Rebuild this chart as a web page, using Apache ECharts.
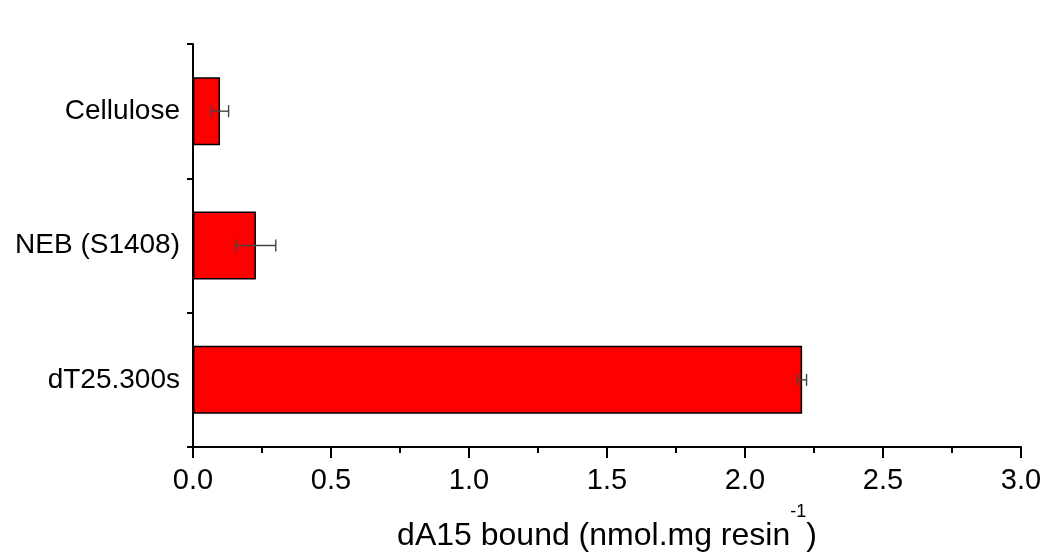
<!DOCTYPE html>
<html>
<head>
    <meta charset="utf-8">
    <title>dA15 bound</title>
    <script src="https://cdn.jsdelivr.net/npm/echarts@6/dist/echarts.min.js"></script>
</head>
<body style="margin:0;background:#fff;">
    <div id="main" style="width:1045px;height:555px;"></div>
    <script type="text/javascript">

// data (bottom to top)
var categories = ['dT25.300s', 'NEB (S1408)', 'Cellulose'];
var boundValues = [2.207, 0.228, 0.098];
var boundErrors = [0.016, 0.072, 0.031];
var xTicks = [0, 0.5, 1.0, 1.5, 2.0, 2.5, 3.0];

var errData = categories.map(function (c, i) {
    return [i, boundValues[i] - boundErrors[i], boundValues[i] + boundErrors[i]];
});

var myChart = echarts.init(document.getElementById('main'));

var option = {
    backgroundColor: '#ffffff',
    animation: false,
    grid: { left: 193, right: 24, top: 44, bottom: 108, outerBoundsMode: 'none' },
    xAxis: {
        type: 'value',
        min: xTicks[0],
        max: xTicks[xTicks.length - 1],
        interval: 0.5,
        name: '{t|dA15 bound (nmol.mg resin}{s|-1}{t|)}',
        nameLocation: 'middle',
        nameGap: 56,
        nameTextStyle: {
            rich: {
                t: { fontFamily: 'Liberation Sans', fontSize: 32, lineHeight: 49, color: '#000', verticalAlign: 'bottom' },
                s: { fontFamily: 'Liberation Sans', fontSize: 18, lineHeight: 18, color: '#000', verticalAlign: 'top' }
            }
        },
        axisLine: { show: true, lineStyle: { color: '#000', width: 2 } },
        axisTick: { show: true, inside: false, length: 11, lineStyle: { color: '#000', width: 2 } },
        minorTick: { show: true, splitNumber: 2, length: 6, lineStyle: { color: '#000', width: 2 } },
        splitLine: { show: false },
        axisLabel: {
            fontFamily: 'Liberation Sans', fontSize: 29, color: '#000', margin: 19,
            formatter: function (v) { return v.toFixed(1); }
        }
    },
    yAxis: {
        type: 'category',
        data: categories,
        axisLine: { show: true, lineStyle: { color: '#000', width: 2 } },
        axisTick: { show: true, inside: false, length: 6, lineStyle: { color: '#000', width: 2 } },
        splitLine: { show: false },
        axisLabel: { fontFamily: 'Liberation Sans', fontSize: 28, color: '#000', margin: 13 }
    },
    series: [
        {
            name: 'bound',
            type: 'bar',
            data: boundValues,
            barWidth: 68,
            itemStyle: { color: '#ff0000', borderColor: '#000', borderWidth: 1.5 }
        },
        {
            name: 'error',
            type: 'custom',
            data: errData,
            encode: { y: 0, x: [1, 2] },
            z: 10,
            renderItem: function (params, api) {
                var idx = api.value(0);
                var lo = api.coord([api.value(1), idx]);
                var hi = api.coord([api.value(2), idx]);
                var h = 6;
                var st = { stroke: '#444', lineWidth: 1.4 };
                return {
                    type: 'group',
                    children: [
                        { type: 'line', shape: { x1: lo[0], y1: lo[1], x2: hi[0], y2: hi[1] }, style: st },
                        { type: 'line', shape: { x1: lo[0], y1: lo[1] - h, x2: lo[0], y2: lo[1] + h }, style: st },
                        { type: 'line', shape: { x1: hi[0], y1: hi[1] - h, x2: hi[0], y2: hi[1] + h }, style: st }
                    ]
                };
            }
        }
    ]
};

myChart.setOption(option);

    </script>
</body>
</html>
